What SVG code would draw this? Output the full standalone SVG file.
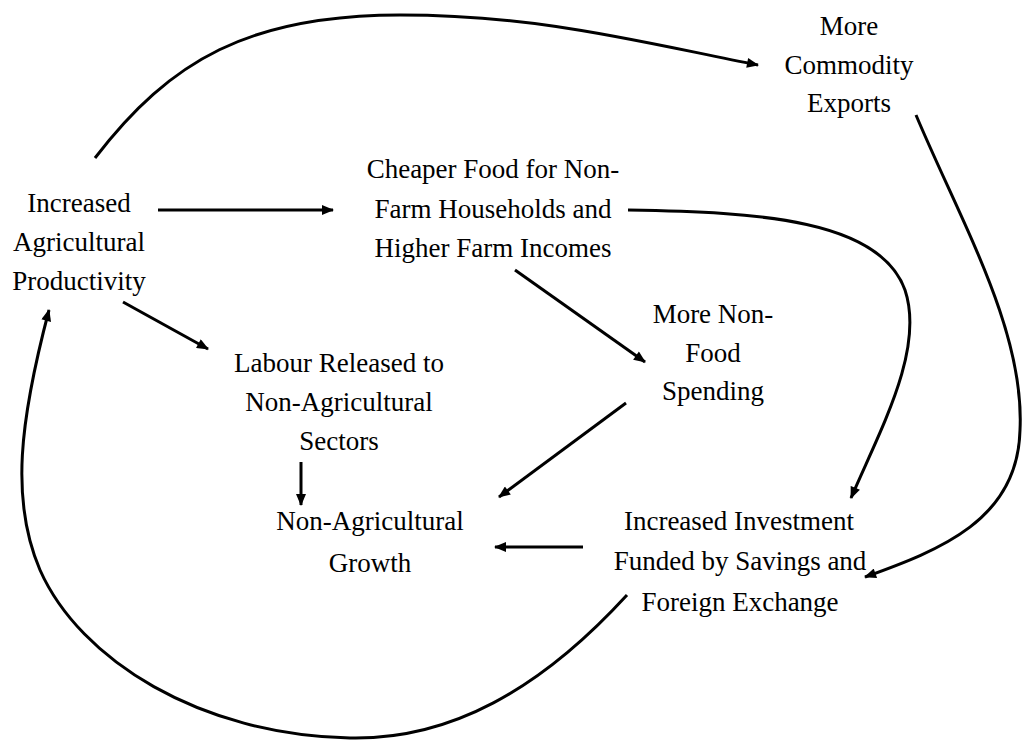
<svg xmlns="http://www.w3.org/2000/svg" width="1022" height="740" viewBox="0 0 1022 740">
  <style>
    text { font-family: "Liberation Serif", "Times New Roman", serif; font-size: 27px; fill: #000; text-anchor: middle; }
    .conn { fill: none; stroke: #000; stroke-width: 3; marker-end: url(#arrow); }
  </style>
  <defs>
    <marker id="arrow" viewBox="0 0 12 10" refX="11" refY="5" markerWidth="13" markerHeight="10" markerUnits="userSpaceOnUse" orient="auto">
      <path d="M0,0 L12,5 L0,10 Z" fill="#000"/>
    </marker>
  </defs>
  <rect width="1022" height="740" fill="#fff"/>

  <g id="node-productivity">
    <text x="79" y="212">Increased</text>
    <text x="79" y="251">Agricultural</text>
    <text x="79" y="290">Productivity</text>
  </g>
  <g id="node-exports">
    <text x="849" y="35">More</text>
    <text x="849" y="74">Commodity</text>
    <text x="849" y="112">Exports</text>
  </g>
  <g id="node-cheaper-food">
    <text x="493" y="178">Cheaper Food for Non-</text>
    <text x="493" y="218">Farm Households and</text>
    <text x="493" y="257">Higher Farm Incomes</text>
  </g>
  <g id="node-nonfood">
    <text x="713" y="323">More Non-</text>
    <text x="713" y="362">Food</text>
    <text x="713" y="400">Spending</text>
  </g>
  <g id="node-labour">
    <text x="339" y="372">Labour Released to</text>
    <text x="339" y="411">Non-Agricultural</text>
    <text x="339" y="450">Sectors</text>
  </g>
  <g id="node-nonag-growth">
    <text x="370" y="530">Non-Agricultural</text>
    <text x="370" y="572">Growth</text>
  </g>
  <g id="node-investment">
    <text x="739" y="530">Increased Investment</text>
    <text x="740" y="570">Funded by Savings and</text>
    <text x="740" y="611">Foreign Exchange</text>
  </g>

  <g id="connectors">
    <path class="conn" d="M95,158 C170,60 250,15 400,15 C540,15 640,42 758,65"/>
    <path class="conn" d="M158,210 L333,210"/>
    <path class="conn" d="M123,302 L208,349"/>
    <path class="conn" d="M515,270 L645,362"/>
    <path class="conn" d="M628,210 C760,212 880,220 905,290 C925,350 880,430 851,498"/>
    <path class="conn" d="M916,115 C960,220 1025,330 1020,430 C1018,520 940,550 865,577"/>
    <path class="conn" d="M626,403 L499,497"/>
    <path class="conn" d="M301,462 L301,505"/>
    <path class="conn" d="M583,547 L495,547"/>
    <path class="conn" d="M627,595 C540,690 450,740 350,738 C200,735 80,660 40,570 C10,500 20,420 49,310"/>
  </g>
</svg>
